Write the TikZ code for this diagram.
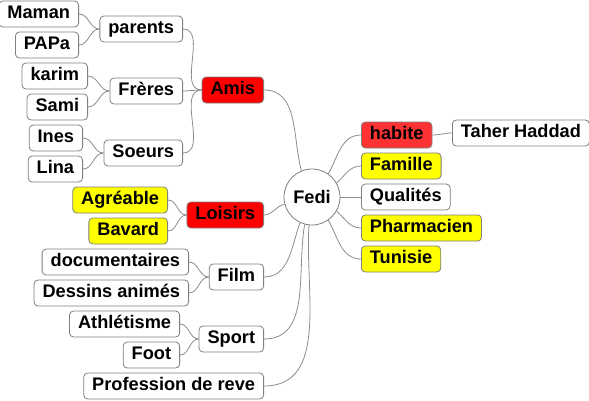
\documentclass[tikz,border=0pt]{standalone}
\usepackage{fontspec}
\setmainfont{Liberation Sans}
\definecolor{boxgray}{HTML}{7F7F7F}
\definecolor{linkgray}{HTML}{8C8C8C}
\definecolor{nodered}{HTML}{FF0000}
\definecolor{lightred}{HTML}{FF3333}
\definecolor{nodeyellow}{HTML}{FFFF00}
\begin{document}
\begin{tikzpicture}[x=1pt,y=-1pt,
  box/.style={draw=boxgray, line width=0.8pt, rounded corners=4pt, minimum height=26pt, inner xsep=8.5pt, inner ysep=0pt, fill=white, font=\fontsize{18.2}{21}\selectfont\bfseries, text height=13pt, text depth=3.5pt},
  redbox/.style={box, fill=nodered},
  habbox/.style={box, fill=lightred},
  yelbox/.style={box, fill=nodeyellow},
  centre/.style={draw=boxgray, line width=0.8pt, circle, fill=white, minimum size=56pt, inner sep=0pt, font=\fontsize{18.2}{21}\selectfont\bfseries},
  link/.style={draw=linkgray, line width=0.8pt},
]
\useasboundingbox (0,0) rectangle (589,400);
% centre
\node[centre] (fedi) at (312,197) {Fedi};
% left level 1
\node[redbox, anchor=east] (amis) at (264,90) {Amis};
\node[redbox, anchor=east] (loisirs) at (264,215) {Loisirs};
\node[box, anchor=east] (film) at (264,277) {Film};
\node[box, anchor=east] (sport) at (264,339) {Sport};
\node[box, anchor=east] (prof) at (264,386) {Profession de reve};
% Amis children
\node[box, anchor=east] (parents) at (183,29) {parents};
\node[box, anchor=east] (freres) at (183,91) {Frères};
\node[box, anchor=east] (soeurs) at (183,153) {Soeurs};
\node[box, anchor=east] (maman) at (79,14) {Maman};
\node[box, anchor=east] (papa) at (79,45) {PAPa};
\node[box, anchor=east] (karim) at (88,76) {karim};
\node[box, anchor=east] (sami) at (88,107) {Sami};
\node[box, anchor=east] (ines) at (83,138) {Ines};
\node[box, anchor=east] (lina) at (83,169) {Lina};
% Loisirs children
\node[yelbox, anchor=east] (agreable) at (168,200) {Agréable};
\node[yelbox, anchor=east] (bavard) at (168,231) {Bavard};
% Film children
\node[box, anchor=east] (docu) at (189,262) {documentaires};
\node[box, anchor=east] (dessins) at (189,293) {Dessins animés};
% Sport children
\node[box, anchor=east] (athle) at (180,324) {Athlétisme};
\node[box, anchor=east] (foot) at (180,355) {Foot};
% right
\node[habbox, anchor=west] (habite) at (361,135) {habite};
\node[box, anchor=west] (taher) at (452,133) {Taher Haddad};
\node[yelbox, anchor=west] (famille) at (361,166) {Famille};
\node[box, anchor=west] (qualites) at (361,197) {Qualités};
\node[yelbox, anchor=west] (pharma) at (361,228) {Pharmacien};
\node[yelbox, anchor=west] (tunisie) at (361,259) {Tunisie};
% links from centre
\draw[link] (fedi.112) to[out=105,in=0] (amis.east);
\draw[link] (fedi.195) to[out=190,in=0] (loisirs.east);
\draw[link] (fedi.245) to[out=250,in=0] (film.east);
\draw[link] (fedi.255) to[out=260,in=0] (sport.east);
\draw[link] (fedi.264) to[out=266,in=0] (prof.east);
\draw[link] (fedi.55) to[out=60,in=180] (habite.west);
\draw[link] (fedi.30) to[out=40,in=180] (famille.west);
\draw[link] (fedi.east) -- (qualites.west);
\draw[link] (fedi.-30) to[out=-40,in=180] (pharma.west);
\draw[link] (fedi.-55) to[out=-60,in=180] (tunisie.west);
\draw[link] (habite.east) to[out=0,in=180] (taher.west);
% level 2 links
\foreach \c/\p in {parents/amis, freres/amis, soeurs/amis, maman/parents, papa/parents, karim/freres, sami/freres, ines/soeurs, lina/soeurs, agreable/loisirs, bavard/loisirs, docu/film, dessins/film, athle/sport, foot/sport}
  \draw[link] (\c.east) to[out=0,in=180] (\p.west);
\end{tikzpicture}
\end{document}
